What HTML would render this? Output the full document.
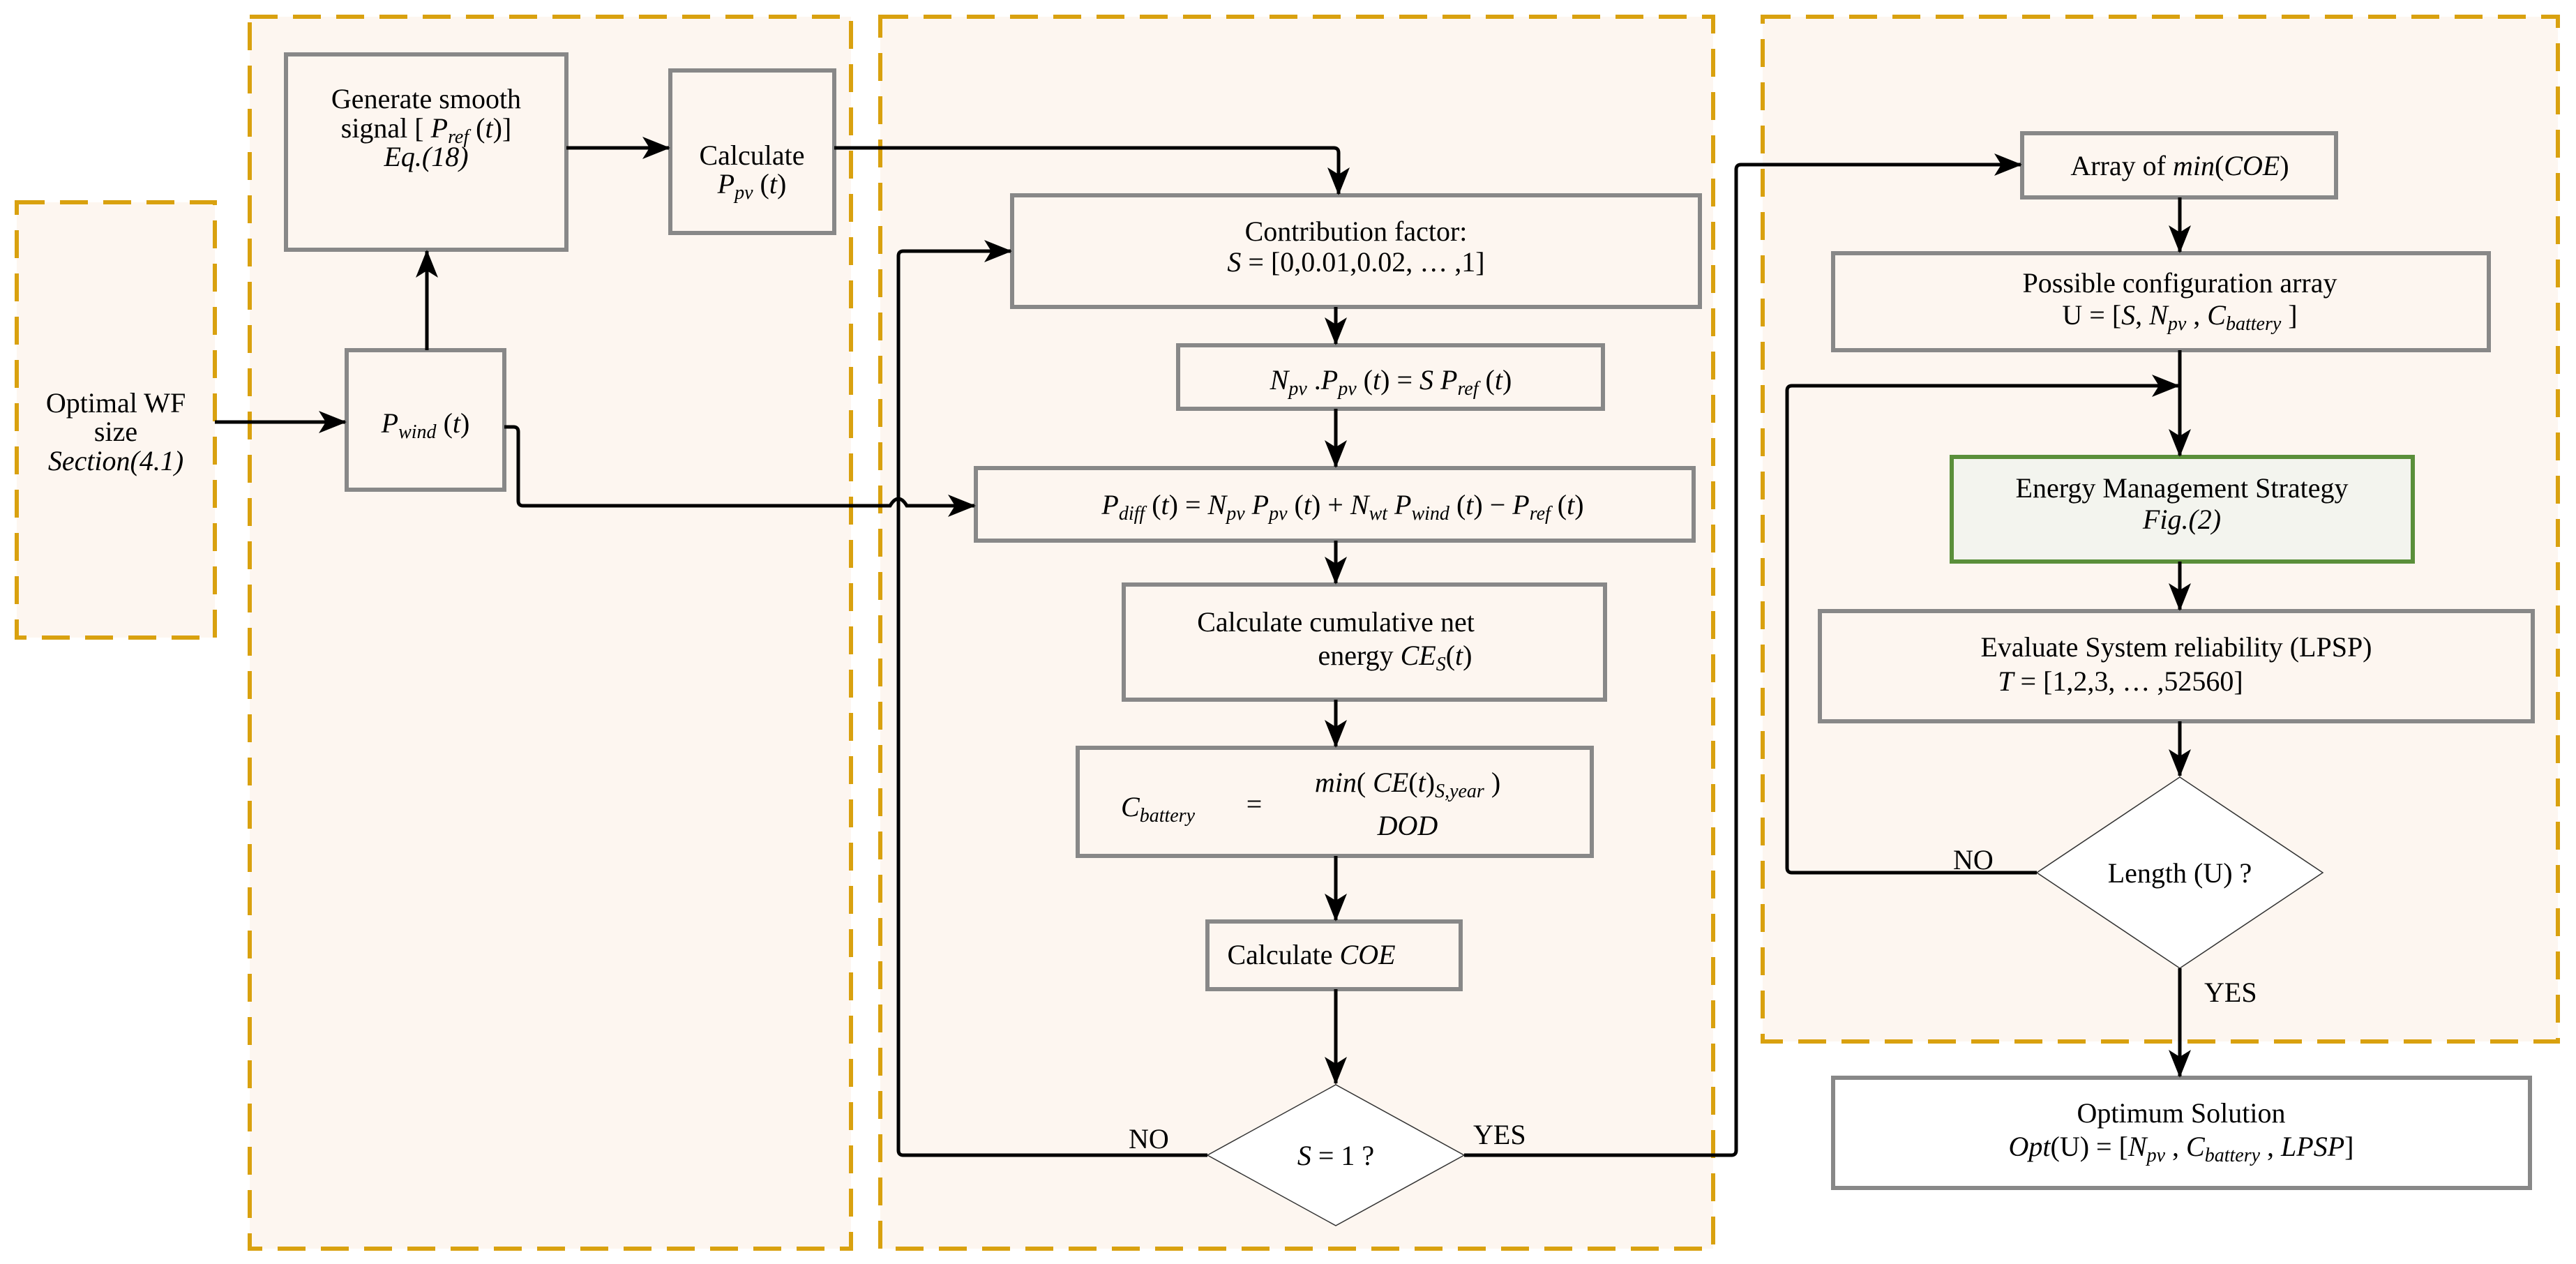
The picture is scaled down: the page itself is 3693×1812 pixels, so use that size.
<!DOCTYPE html>
<html><head><meta charset="utf-8"><style>
html,body{margin:0;padding:0;background:#fff;}
svg{display:block;}
text{font-family:"Liberation Serif",serif;font-size:40px;fill:#000;}
.i{font-style:italic;}
</style></head><body>
<svg width="3693" height="1812" viewBox="0 0 3693 1812" xmlns="http://www.w3.org/2000/svg">
<defs>
<marker id="a" markerWidth="10" markerHeight="10" refX="9" refY="5" orient="auto" markerUnits="userSpaceOnUse" viewBox="0 0 10 10">
</marker>
<marker id="ar" viewBox="0 0 20 16" refX="19" refY="8" markerWidth="40" markerHeight="32" markerUnits="userSpaceOnUse" orient="auto"><path d="M0,0 L20,8 L0,16 L5,8 z" fill="#000"/></marker>
</defs>
<g fill="#fdf6f0" stroke="#d9a10f" stroke-width="6" stroke-dasharray="40,22">
<rect x="24" y="290" width="284" height="624"/>
<rect x="358" y="24" width="862" height="1766"/>
<rect x="1262" y="24" width="1194" height="1766"/>
<rect x="2527" y="24" width="1140" height="1469"/>
</g>
<g fill="#fdf6f0" stroke="#888" stroke-width="6">
<rect x="410" y="78" width="402" height="280"/>
<rect x="961" y="101" width="235" height="233"/>
<rect x="497" y="502" width="226" height="200"/>
<rect x="1451" y="280" width="986" height="160"/>
<rect x="1689" y="495" width="609" height="91"/>
<rect x="1399" y="671" width="1029" height="104"/>
<rect x="1611" y="838" width="690" height="165"/>
<rect x="1545" y="1072" width="737" height="155"/>
<rect x="1731" y="1321" width="363" height="97"/>
<rect x="2899" y="191" width="450" height="92"/>
<rect x="2628" y="363" width="940" height="139"/>
<rect x="2609" y="876" width="1022" height="158"/>
<rect x="2628" y="1545" width="999" height="158" fill="#fff"/>
</g>
<rect x="2798" y="655" width="661" height="150" fill="#f3f4ee" stroke="#5a8f3a" stroke-width="6"/>
<polygon points="1731,1656 1915,1555 2099,1656 1915,1757" fill="#fff" stroke="#333" stroke-width="1.5"/>
<polygon points="2920,1251 3125,1114 3330,1251 3125,1388" fill="#fff" stroke="#333" stroke-width="1.5"/>
<g fill="none" stroke="#000" stroke-width="5">
<path d="M308,605 H495" marker-end="url(#ar)"/>
<path d="M612,502 V360" marker-end="url(#ar)"/>
<path d="M812,212 H959" marker-end="url(#ar)"/>
<path d="M1196,212 H1912 Q1919,212 1919,219 V278" marker-end="url(#ar)"/>
<path d="M723,612 H736 Q743,612 743,619 V718 Q743,725 750,725 H1276 Q1288,705 1300,725 H1397" marker-end="url(#ar)"/>
<path d="M1731,1656 H1295 Q1288,1656 1288,1649 V367 Q1288,360 1295,360 H1449" marker-end="url(#ar)"/>
<path d="M1915,440 V493" marker-end="url(#ar)"/>
<path d="M1915,586 V669" marker-end="url(#ar)"/>
<path d="M1915,775 V836" marker-end="url(#ar)"/>
<path d="M1915,1003 V1070" marker-end="url(#ar)"/>
<path d="M1915,1227 V1319" marker-end="url(#ar)"/>
<path d="M1915,1418 V1553" marker-end="url(#ar)"/>
<path d="M2099,1656 H2482 Q2489,1656 2489,1649 V243 Q2489,236 2496,236 H2897" marker-end="url(#ar)"/>
<path d="M3125,283 V361" marker-end="url(#ar)"/>
<path d="M3125,502 V653" marker-end="url(#ar)"/>
<path d="M2920,1251 H2569 Q2562,1251 2562,1244 V560 Q2562,553 2569,553 H3123" marker-end="url(#ar)"/>
<path d="M3125,805 V874" marker-end="url(#ar)"/>
<path d="M3125,1034 V1112" marker-end="url(#ar)"/>
<path d="M3125,1388 V1543" marker-end="url(#ar)"/>
</g>
<g text-anchor="middle">
<text x="166" y="591">Optimal WF</text>
<text x="166" y="632">size</text>
<text x="166" y="674" class="i">Section(4.1)</text>
<text x="611" y="155">Generate smooth</text>
<text x="611" y="197">signal [ <tspan class="i">P</tspan><tspan class="i" font-size="28" dy="8">ref</tspan><tspan dy="-8"> (</tspan><tspan class="i">t</tspan>)]</text>
<text x="611" y="238" class="i">Eq.(18)</text>
<text x="1078" y="236">Calculate</text>
<text x="1078" y="277"><tspan class="i">P</tspan><tspan class="i" font-size="28" dy="8">pv</tspan><tspan dy="-8"> (</tspan><tspan class="i">t</tspan>)</text>
<text x="610" y="620"><tspan class="i">P</tspan><tspan class="i" font-size="28" dy="8">wind</tspan><tspan dy="-8"> (</tspan><tspan class="i">t</tspan>)</text>
<text x="1944" y="345">Contribution factor:</text>
<text x="1944" y="389"><tspan class="i">S</tspan> = [0,0.01,0.02, … ,1]</text>
<text x="1994" y="558"><tspan class="i">N</tspan><tspan class="i" font-size="28" dy="8">pv</tspan><tspan dy="-8"> .</tspan><tspan class="i">P</tspan><tspan class="i" font-size="28" dy="8">pv</tspan><tspan dy="-8"> (</tspan><tspan class="i">t</tspan>) = <tspan class="i">S P</tspan><tspan class="i" font-size="28" dy="8">ref</tspan><tspan dy="-8"> (</tspan><tspan class="i">t</tspan>)</text>
<text x="1925" y="737"><tspan class="i">P</tspan><tspan class="i" font-size="28" dy="8">diff</tspan><tspan dy="-8"> (</tspan><tspan class="i">t</tspan>) = <tspan class="i">N</tspan><tspan class="i" font-size="28" dy="8">pv</tspan><tspan dy="-8"> </tspan><tspan class="i">P</tspan><tspan class="i" font-size="28" dy="8">pv</tspan><tspan dy="-8"> (</tspan><tspan class="i">t</tspan>) + <tspan class="i">N</tspan><tspan class="i" font-size="28" dy="8">wt</tspan><tspan dy="-8"> </tspan><tspan class="i">P</tspan><tspan class="i" font-size="28" dy="8">wind</tspan><tspan dy="-8"> (</tspan><tspan class="i">t</tspan>) − <tspan class="i">P</tspan><tspan class="i" font-size="28" dy="8">ref</tspan><tspan dy="-8"> (</tspan><tspan class="i">t</tspan>)</text>
<text x="1915" y="905">Calculate cumulative net</text>
<text x="2000" y="953">energy  <tspan class="i">CE</tspan><tspan class="i" font-size="28" dy="8">S</tspan><tspan dy="-8">(</tspan><tspan class="i">t</tspan>)</text>
<text x="1660" y="1170"><tspan class="i">C</tspan><tspan class="i" font-size="28" dy="8">battery</tspan></text>
<text x="1798" y="1166">=</text>
<text x="2018" y="1135"><tspan class="i">min</tspan>( <tspan class="i">CE</tspan>(<tspan class="i">t</tspan>)<tspan class="i" font-size="28" dy="8">S,year</tspan><tspan dy="-8"> )</tspan></text>
<text x="2018" y="1197" class="i">DOD</text>
<text x="1880" y="1382">Calculate  <tspan class="i">COE</tspan></text>
<text x="1915" y="1670"><tspan class="i">S</tspan> = 1 ?</text>
<text x="3125" y="251">Array of  <tspan class="i">min</tspan>(<tspan class="i">COE</tspan>)</text>
<text x="3125" y="419">Possible configuration array</text>
<text x="3125" y="465">U = [<tspan class="i">S</tspan>, <tspan class="i">N</tspan><tspan class="i" font-size="28" dy="8">pv</tspan><tspan dy="-8"> , </tspan><tspan class="i">C</tspan><tspan class="i" font-size="28" dy="8">battery</tspan><tspan dy="-8"> ]</tspan></text>
<text x="3128" y="713">Energy Management Strategy</text>
<text x="3128" y="758" class="i">Fig.(2)</text>
<text x="3120" y="941">Evaluate System reliability (LPSP)</text>
<text x="3040" y="990"><tspan class="i">T</tspan> = [1,2,3, … ,52560]</text>
<text x="3125" y="1265">Length (U) ?</text>
<text x="3127" y="1609">Optimum Solution</text>
<text x="3127" y="1657"><tspan class="i">Opt</tspan>(U) = [<tspan class="i">N</tspan><tspan class="i" font-size="28" dy="8">pv</tspan><tspan dy="-8"> , </tspan><tspan class="i">C</tspan><tspan class="i" font-size="28" dy="8">battery</tspan><tspan dy="-8">  , </tspan><tspan class="i">LPSP</tspan>]</text>
</g>
<text x="1618" y="1646">NO</text>
<text x="2112" y="1640">YES</text>
<text x="2800" y="1246">NO</text>
<text x="3160" y="1436">YES</text>
</svg>
</body></html>
